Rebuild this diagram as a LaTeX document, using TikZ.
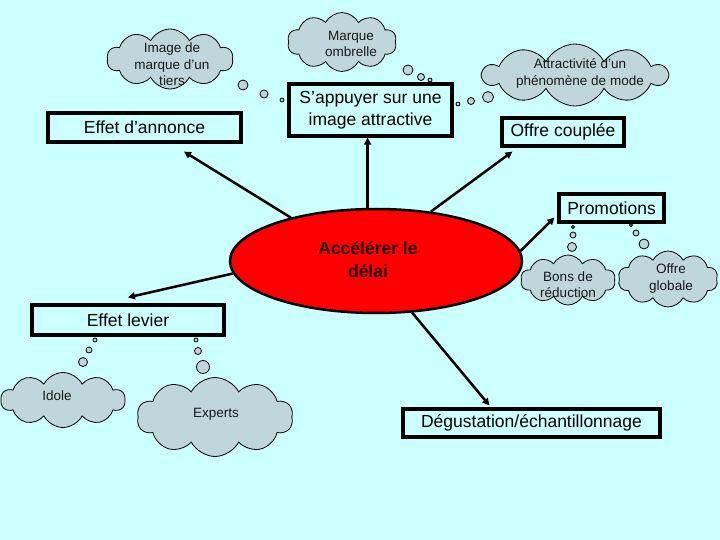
\documentclass[tikz,border=0pt]{standalone}
\usepackage{fontspec}
\setmainfont{Liberation Sans}
\usetikzlibrary{shapes.geometric,shapes.symbols,arrows.meta,calc}
\definecolor{bg}{RGB}{204,255,255}
\definecolor{cloudc}{RGB}{190,214,220}
\definecolor{txtgray}{RGB}{25,25,25}
\begin{document}
\begin{tikzpicture}[x=1pt,y=-1pt,
  box/.style={draw, line width=3.2pt, fill=bg, inner sep=0pt, font=\fontsize{17.5}{22}\selectfont, align=center},
  cl/.style={cloud, cloud puffs=10, cloud puff arc=125, cloud ignores aspect, draw, line width=0.8pt, fill=cloudc, inner sep=0pt},
  cltext/.style={font=\fontsize{13.5}{16.5}\selectfont, align=center, text=txtgray, inner sep=0pt},
  bub/.style={circle, draw, line width=0.8pt, fill=cloudc, inner sep=0pt},
  arr/.style={line width=2.5pt, -{Triangle[length=7pt,width=7pt]}}]
\fill[bg] (0,0) rectangle (720,540);
\useasboundingbox (0,0) rectangle (720,540);

% central ellipse
\node[ellipse, draw, line width=2.5pt, fill=red, minimum width=292pt, minimum height=104pt, inner sep=0pt] (ell) at (376,261) {};
\node[font=\fontsize{17.5}{23}\selectfont\bfseries, align=center, text=black!85!red, inner sep=0pt] (elltxt) at (368,260) {Accélérer le\\délai};

% boxes
\node[box, minimum width=193pt, minimum height=29pt] (ea) at (144.5,127.5) {Effet d’annonce};
\node[box, minimum width=163pt, minimum height=52pt] (sap) at (370.5,110) {S’appuyer sur une\\image attractive};
\node[box, minimum width=122pt, minimum height=28pt] (oc) at (563,132) {Offre couplée};
\node[box, minimum width=105pt, minimum height=28pt] (promo) at (611.5,208) {Promotions};
\node[box, minimum width=192pt, minimum height=30pt] (el) at (128,320) {Effet levier};
\node[box, minimum width=257pt, minimum height=28pt] (deg) at (531.5,423) {Dégustation/échantillonnage};

% arrows
\draw[arr] (ell.153) -- ($(ea.south)+(39.5,8)$);
\draw[arr] (ell.99) -- (ell.99 |- sap.south);
\draw[arr] (ell.42) -- ($(oc.south west)+(12,4)$);
\draw[arr] (ell.4) -- ($(promo.south west)+(-3,-6)$);
\draw[arr] (ell.-55) -- ($(deg.north west)+(88,-2)$);
\draw[arr] (ell.185) -- ($(el.north)+(0,-6)$);

% clouds
\node[cl, minimum width=126pt, minimum height=60pt] (c1) at (170,59) {};
\node[cltext] (t1) at (172,64.5) {Image de\\marque d'un\\tiers};
\node[bub, minimum size=10pt] (b11) at (243,85) {};
\node[bub, minimum size=8pt] (b12) at (264,94) {};
\node[bub, minimum size=4pt] (b13) at (282,100) {};

\node[cl, minimum width=109pt, minimum height=59pt] (c2) at (342,42) {};
\node[cltext] (t2) at (351,44) {Marque\\ombrelle};
\node[bub, minimum size=10pt] (b21) at (408,70) {};
\node[bub, minimum size=7pt] (b22) at (421,77) {};
\node[bub, minimum size=4pt] (b23) at (430,80) {};

\node[cl, minimum width=184pt, minimum height=62pt] (c3) at (575,75) {};
\node[cltext] (t3) at (580,73.5) {Attractivité d'un\\phénomène de mode};
\node[bub, minimum size=11pt] (b31) at (488,97) {};
\node[bub, minimum size=7pt] (b32) at (471,101) {};
\node[bub, minimum size=4pt] (b33) at (458,104) {};

\node[cl, minimum width=95pt, minimum height=50pt] (c4) at (568,280) {};
\node[cltext] (t4) at (568,284.5) {Bons de\\réduction};
\node[bub, minimum size=3pt] (b41) at (573,227) {};
\node[bub, minimum size=6pt] (b42) at (573,235) {};
\node[bub, minimum size=9pt] (b43) at (572,247) {};

\node[cl, minimum width=100pt, minimum height=56pt] (c5) at (668,279) {};
\node[cltext] (t5) at (671,278.5) {Offre\\globale};
\node[bub, minimum size=3pt] (b51) at (631,225) {};
\node[bub, minimum size=6pt] (b52) at (636,233) {};
\node[bub, minimum size=10pt] (b53) at (644,244) {};

\node[cl, minimum width=124pt, minimum height=55pt] (c6) at (63,400) {};
\node[cltext] (t6) at (57,396) {Idole};
\node[bub, minimum size=4pt] (b61) at (95,340) {};
\node[bub, minimum size=6pt] (b62) at (89,350) {};
\node[bub, minimum size=9pt] (b63) at (83,362) {};

\node[cl, minimum width=156pt, minimum height=79pt] (c7) at (215,417) {};
\node[cltext] (t7) at (216,414) {Experts};
\node[bub, minimum size=4pt] (b71) at (196,340) {};
\node[bub, minimum size=7pt] (b72) at (198,351) {};
\node[bub, minimum size=13pt] (b73) at (203,367) {};
\end{tikzpicture}
\end{document}
